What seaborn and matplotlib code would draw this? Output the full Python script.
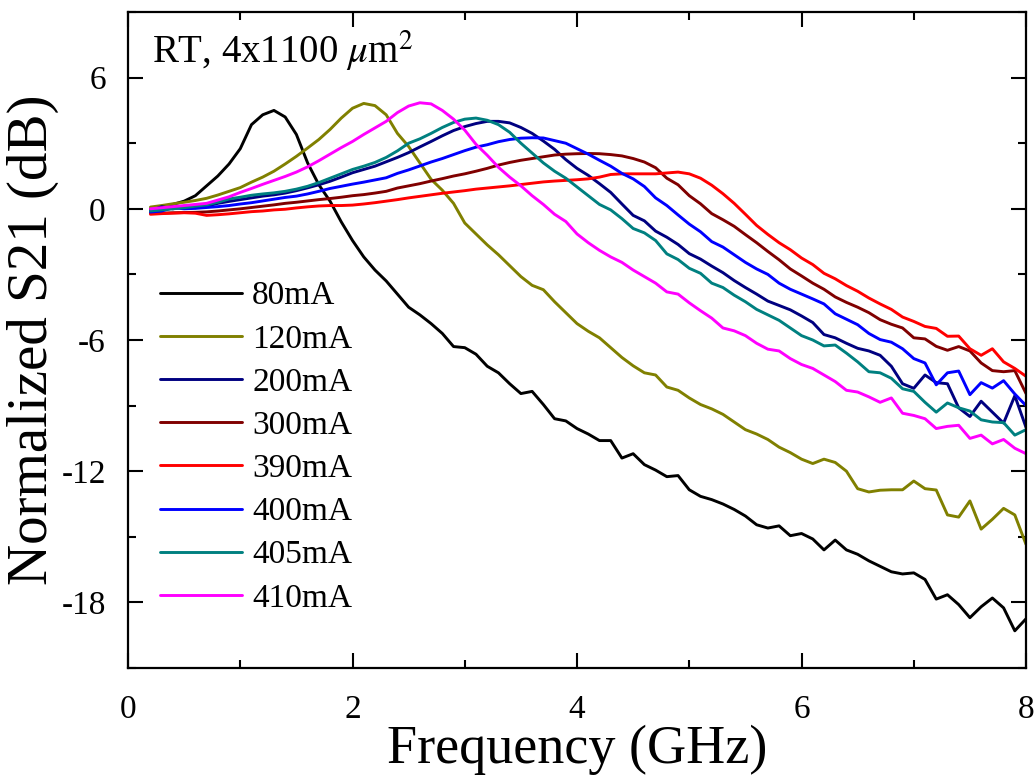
import numpy as np
import pandas as pd
import matplotlib
matplotlib.use("Agg")
import matplotlib.pyplot as plt
from matplotlib.ticker import MultipleLocator
import seaborn as sns

freq = [0.2, 0.3, 0.4, 0.5, 0.6, 0.7, 0.8, 0.9, 1.0, 1.1, 1.2, 1.3, 1.4, 1.5, 1.6, 1.7, 1.8, 1.9,
        2.0, 2.1, 2.2, 2.3, 2.4, 2.5, 2.6, 2.7, 2.8, 2.9, 3.0, 3.1, 3.2, 3.3, 3.4, 3.5, 3.6, 3.7,
        3.8, 3.9, 4.0, 4.1, 4.2, 4.3, 4.4, 4.5, 4.6, 4.7, 4.8, 4.9, 5.0, 5.1, 5.2, 5.3, 5.4, 5.5,
        5.6, 5.7, 5.8, 5.9, 6.0, 6.1, 6.2, 6.3, 6.4, 6.5, 6.6, 6.7, 6.8, 6.9, 7.0, 7.1, 7.2, 7.3,
        7.4, 7.5, 7.6, 7.7, 7.8, 7.9, 8.0]

s80 = [0.0, 0.1, 0.2, 0.35, 0.6, 1.05, 1.5, 2.05, 2.75, 3.85, 4.3, 4.5, 4.2, 3.4, 2.1, 1.1, 0.35, -0.6,
       -1.45, -2.2, -2.8, -3.3, -3.9, -4.5, -4.85, -5.25, -5.7, -6.3, -6.35, -6.65, -7.2, -7.5, -8.0, -8.45, -8.35, -8.95,
       -9.6, -9.7, -10.05, -10.3, -10.6, -10.6, -11.4, -11.2, -11.7, -11.95, -12.25, -12.2, -12.85, -13.15, -13.3, -13.5, -13.75, -14.05,
       -14.45, -14.6, -14.5, -14.95, -14.85, -15.1, -15.6, -15.15, -15.6, -15.8, -16.1, -16.35, -16.6, -16.7, -16.65, -16.95, -17.85, -17.65,
       -18.1, -18.7, -18.2, -17.8, -18.25, -19.3, -18.75]

s120 = [0.08, 0.15, 0.23, 0.3, 0.38, 0.48, 0.63, 0.8, 0.97, 1.22, 1.45, 1.72, 2.05, 2.4, 2.78, 3.17, 3.63, 4.15,
        4.6, 4.82, 4.72, 4.3, 3.45, 2.85, 2.1, 1.35, 0.85, 0.25, -0.65, -1.15, -1.65, -2.1, -2.6, -3.1, -3.5, -3.7,
        -4.25, -4.75, -5.25, -5.6, -5.9, -6.35, -6.8, -7.18, -7.5, -7.6, -8.15, -8.3, -8.65, -8.95, -9.15, -9.4, -9.75, -10.1,
        -10.3, -10.55, -10.9, -11.15, -11.45, -11.65, -11.45, -11.6, -12.0, -12.8, -12.95, -12.87, -12.85, -12.85, -12.45, -12.8, -12.86, -14.0,
        -14.1, -13.36, -14.65, -14.2, -13.7, -14.0, -15.35]

s200 = [-0.1, 0.1, 0.0, 0.12, 0.05, 0.12, 0.25, 0.34, 0.42, 0.5, 0.58, 0.64, 0.72, 0.83, 0.96, 1.1, 1.26, 1.45,
        1.65, 1.8, 1.95, 2.15, 2.35, 2.57, 2.83, 3.08, 3.34, 3.58, 3.76, 3.9, 4.0, 4.0, 3.93, 3.72, 3.45, 3.1,
        2.72, 2.25, 1.85, 1.53, 1.15, 0.75, 0.22, -0.3, -0.55, -1.02, -1.3, -1.63, -2.05, -2.3, -2.62, -2.92, -3.28, -3.6,
        -3.9, -4.22, -4.42, -4.62, -4.9, -5.2, -5.75, -5.9, -6.15, -6.38, -6.5, -6.7, -7.2, -8.0, -8.21, -7.6, -7.95, -8.0,
        -9.1, -9.5, -8.8, -9.3, -9.8, -8.55, -10.0]

s300 = [-0.2, -0.2, -0.18, -0.17, -0.16, -0.14, -0.1, -0.05, 0.0, 0.06, 0.12, 0.18, 0.25, 0.3, 0.36, 0.42, 0.47, 0.53,
        0.6, 0.65, 0.72, 0.8, 0.95, 1.05, 1.15, 1.27, 1.38, 1.5, 1.6, 1.72, 1.85, 2.0, 2.12, 2.22, 2.3, 2.38,
        2.46, 2.5, 2.52, 2.53, 2.52, 2.48, 2.42, 2.3, 2.14, 1.88, 1.4, 1.1, 0.6, 0.23, -0.22, -0.5, -0.8, -1.18,
        -1.55, -1.95, -2.33, -2.75, -3.07, -3.4, -3.68, -4.03, -4.28, -4.5, -4.75, -5.07, -5.28, -5.45, -5.9, -5.95, -6.29, -6.47,
        -6.3, -6.5, -7.05, -7.4, -7.45, -7.4, -8.45]

s390 = [-0.25, -0.22, -0.2, -0.18, -0.2, -0.3, -0.27, -0.23, -0.18, -0.13, -0.1, -0.05, -0.02, 0.04, 0.09, 0.13, 0.15, 0.15,
        0.17, 0.22, 0.28, 0.35, 0.42, 0.5, 0.57, 0.64, 0.71, 0.77, 0.83, 0.9, 0.95, 1.0, 1.05, 1.11, 1.17, 1.23,
        1.27, 1.3, 1.33, 1.37, 1.45, 1.57, 1.6, 1.6, 1.6, 1.6, 1.64, 1.68, 1.6, 1.4, 1.08, 0.69, 0.25, -0.25,
        -0.76, -1.17, -1.55, -1.87, -2.25, -2.55, -2.95, -3.2, -3.51, -3.77, -4.08, -4.35, -4.6, -4.95, -5.15, -5.38, -5.47, -5.83,
        -5.82, -6.4, -6.7, -6.4, -7.0, -7.3, -7.66]

s400 = [-0.15, -0.1, 0.05, 0.0, 0.02, 0.06, 0.1, 0.15, 0.22, 0.28, 0.36, 0.44, 0.52, 0.58, 0.68, 0.8, 0.93, 1.03,
        1.13, 1.22, 1.32, 1.42, 1.62, 1.78, 1.96, 2.14, 2.3, 2.48, 2.66, 2.82, 2.93, 3.07, 3.17, 3.23, 3.25, 3.24,
        3.12, 3.0, 2.75, 2.5, 2.22, 1.95, 1.62, 1.37, 1.02, 0.5, 0.15, -0.28, -0.7, -1.05, -1.5, -1.75, -2.1, -2.45,
        -2.75, -3.0, -3.4, -3.68, -3.9, -4.12, -4.35, -4.8, -5.05, -5.3, -5.7, -5.98, -6.1, -6.4, -6.85, -7.05, -8.05, -7.5,
        -7.42, -8.5, -7.95, -8.2, -7.86, -8.47, -9.0]

s405 = [-0.1, -0.05, 0.0, 0.05, 0.12, 0.18, 0.3, 0.45, 0.53, 0.62, 0.68, 0.73, 0.8, 0.9, 1.03, 1.2, 1.4, 1.6,
        1.8, 1.95, 2.12, 2.35, 2.65, 3.0, 3.2, 3.45, 3.72, 3.95, 4.1, 4.15, 4.05, 3.85, 3.5, 3.0, 2.55, 2.1,
        1.72, 1.4, 1.0, 0.6, 0.2, -0.05, -0.45, -0.9, -1.1, -1.45, -2.06, -2.32, -2.72, -2.95, -3.4, -3.6, -3.95, -4.25,
        -4.6, -4.85, -5.1, -5.45, -5.8, -6.0, -6.27, -6.23, -6.6, -7.0, -7.45, -7.5, -7.75, -8.23, -8.35, -8.85, -9.3, -8.88,
        -9.1, -9.25, -9.65, -9.75, -9.78, -10.35, -10.1]

s410 = [0.0, 0.05, 0.1, 0.15, 0.2, 0.25, 0.4, 0.55, 0.75, 0.93, 1.12, 1.3, 1.48, 1.68, 1.92, 2.2, 2.5, 2.8,
        3.08, 3.4, 3.7, 4.0, 4.4, 4.7, 4.85, 4.8, 4.5, 4.1, 3.6, 2.95, 2.45, 1.9, 1.45, 1.05, 0.6, 0.2,
        -0.25, -0.58, -1.15, -1.55, -1.9, -2.2, -2.45, -2.8, -3.1, -3.4, -3.8, -3.9, -4.3, -4.66, -5.0, -5.45, -5.58, -5.8,
        -6.15, -6.42, -6.5, -6.85, -7.12, -7.3, -7.6, -7.9, -8.3, -8.38, -8.6, -8.85, -8.65, -9.35, -9.45, -9.6, -10.05, -9.95,
        -9.9, -10.5, -10.35, -10.75, -10.55, -10.95, -11.2]

labels = ["80mA", "120mA", "200mA", "300mA", "390mA", "400mA", "405mA", "410mA"]
colors = ["#000000", "#808000", "#000080", "#800000", "#ff0000", "#0000ff", "#008080", "#ff00ff"]
series = [s80, s120, s200, s300, s390, s400, s405, s410]

frames = []
for lab, vals in zip(labels, series):
    frames.append(pd.DataFrame({"freq": freq, "s21": vals, "current": lab}))
df = pd.concat(frames, ignore_index=True)

sns.set_style("ticks")
plt.rcParams["font.family"] = ["Liberation Serif", "DejaVu Serif"]
plt.rcParams["mathtext.fontset"] = "stix"
plt.rcParams["axes.unicode_minus"] = False
for key in ["text.color", "axes.labelcolor", "xtick.color", "ytick.color", "axes.edgecolor"]:
    plt.rcParams[key] = "black"

fig = plt.figure(figsize=(10.34, 7.76), dpi=100)
ax = fig.add_axes([0.1238, 0.1392, 0.8685, 0.8453])

sns.lineplot(data=df, x="freq", y="s21", hue="current", hue_order=labels,
             palette=dict(zip(labels, colors)), linewidth=2.1, estimator=None,
             sort=False, ax=ax)

ax.set_xlim(0, 8)
ax.set_ylim(-21, 9)
ax.xaxis.set_major_locator(MultipleLocator(2))
ax.xaxis.set_minor_locator(MultipleLocator(1))
ax.yaxis.set_major_locator(MultipleLocator(6))
ax.yaxis.set_minor_locator(MultipleLocator(3))
ax.tick_params(which="both", direction="in", top=True, right=True, width=1.5,
               labelsize=24, colors="black")
ax.tick_params(axis="x", which="major", length=11, pad=19)
ax.tick_params(axis="y", which="major", length=11, pad=16)
ax.tick_params(which="minor", length=6)
for sp in ax.spines.values():
    sp.set_linewidth(1.6)
    sp.set_color("black")

ax.set_xlabel("Frequency (GHz)", fontsize=39, labelpad=0)
ax.set_ylabel("Normalized S21 (dB)", fontsize=41, labelpad=2)

ax.text(0.027, 0.922, r"RT, 4x1100 $\mu$m$^2$", transform=ax.transAxes,
        fontsize=28, ha="left", va="baseline")

handles, labs = ax.get_legend_handles_labels()
ax.legend(handles, labs, loc="upper left", bbox_to_anchor=(0.036, 0.59),
          frameon=False, fontsize=24, handlelength=2.45, handletextpad=0.3,
          labelspacing=0.38, borderpad=0, borderaxespad=0)

fig.savefig("out.png", dpi=100)
